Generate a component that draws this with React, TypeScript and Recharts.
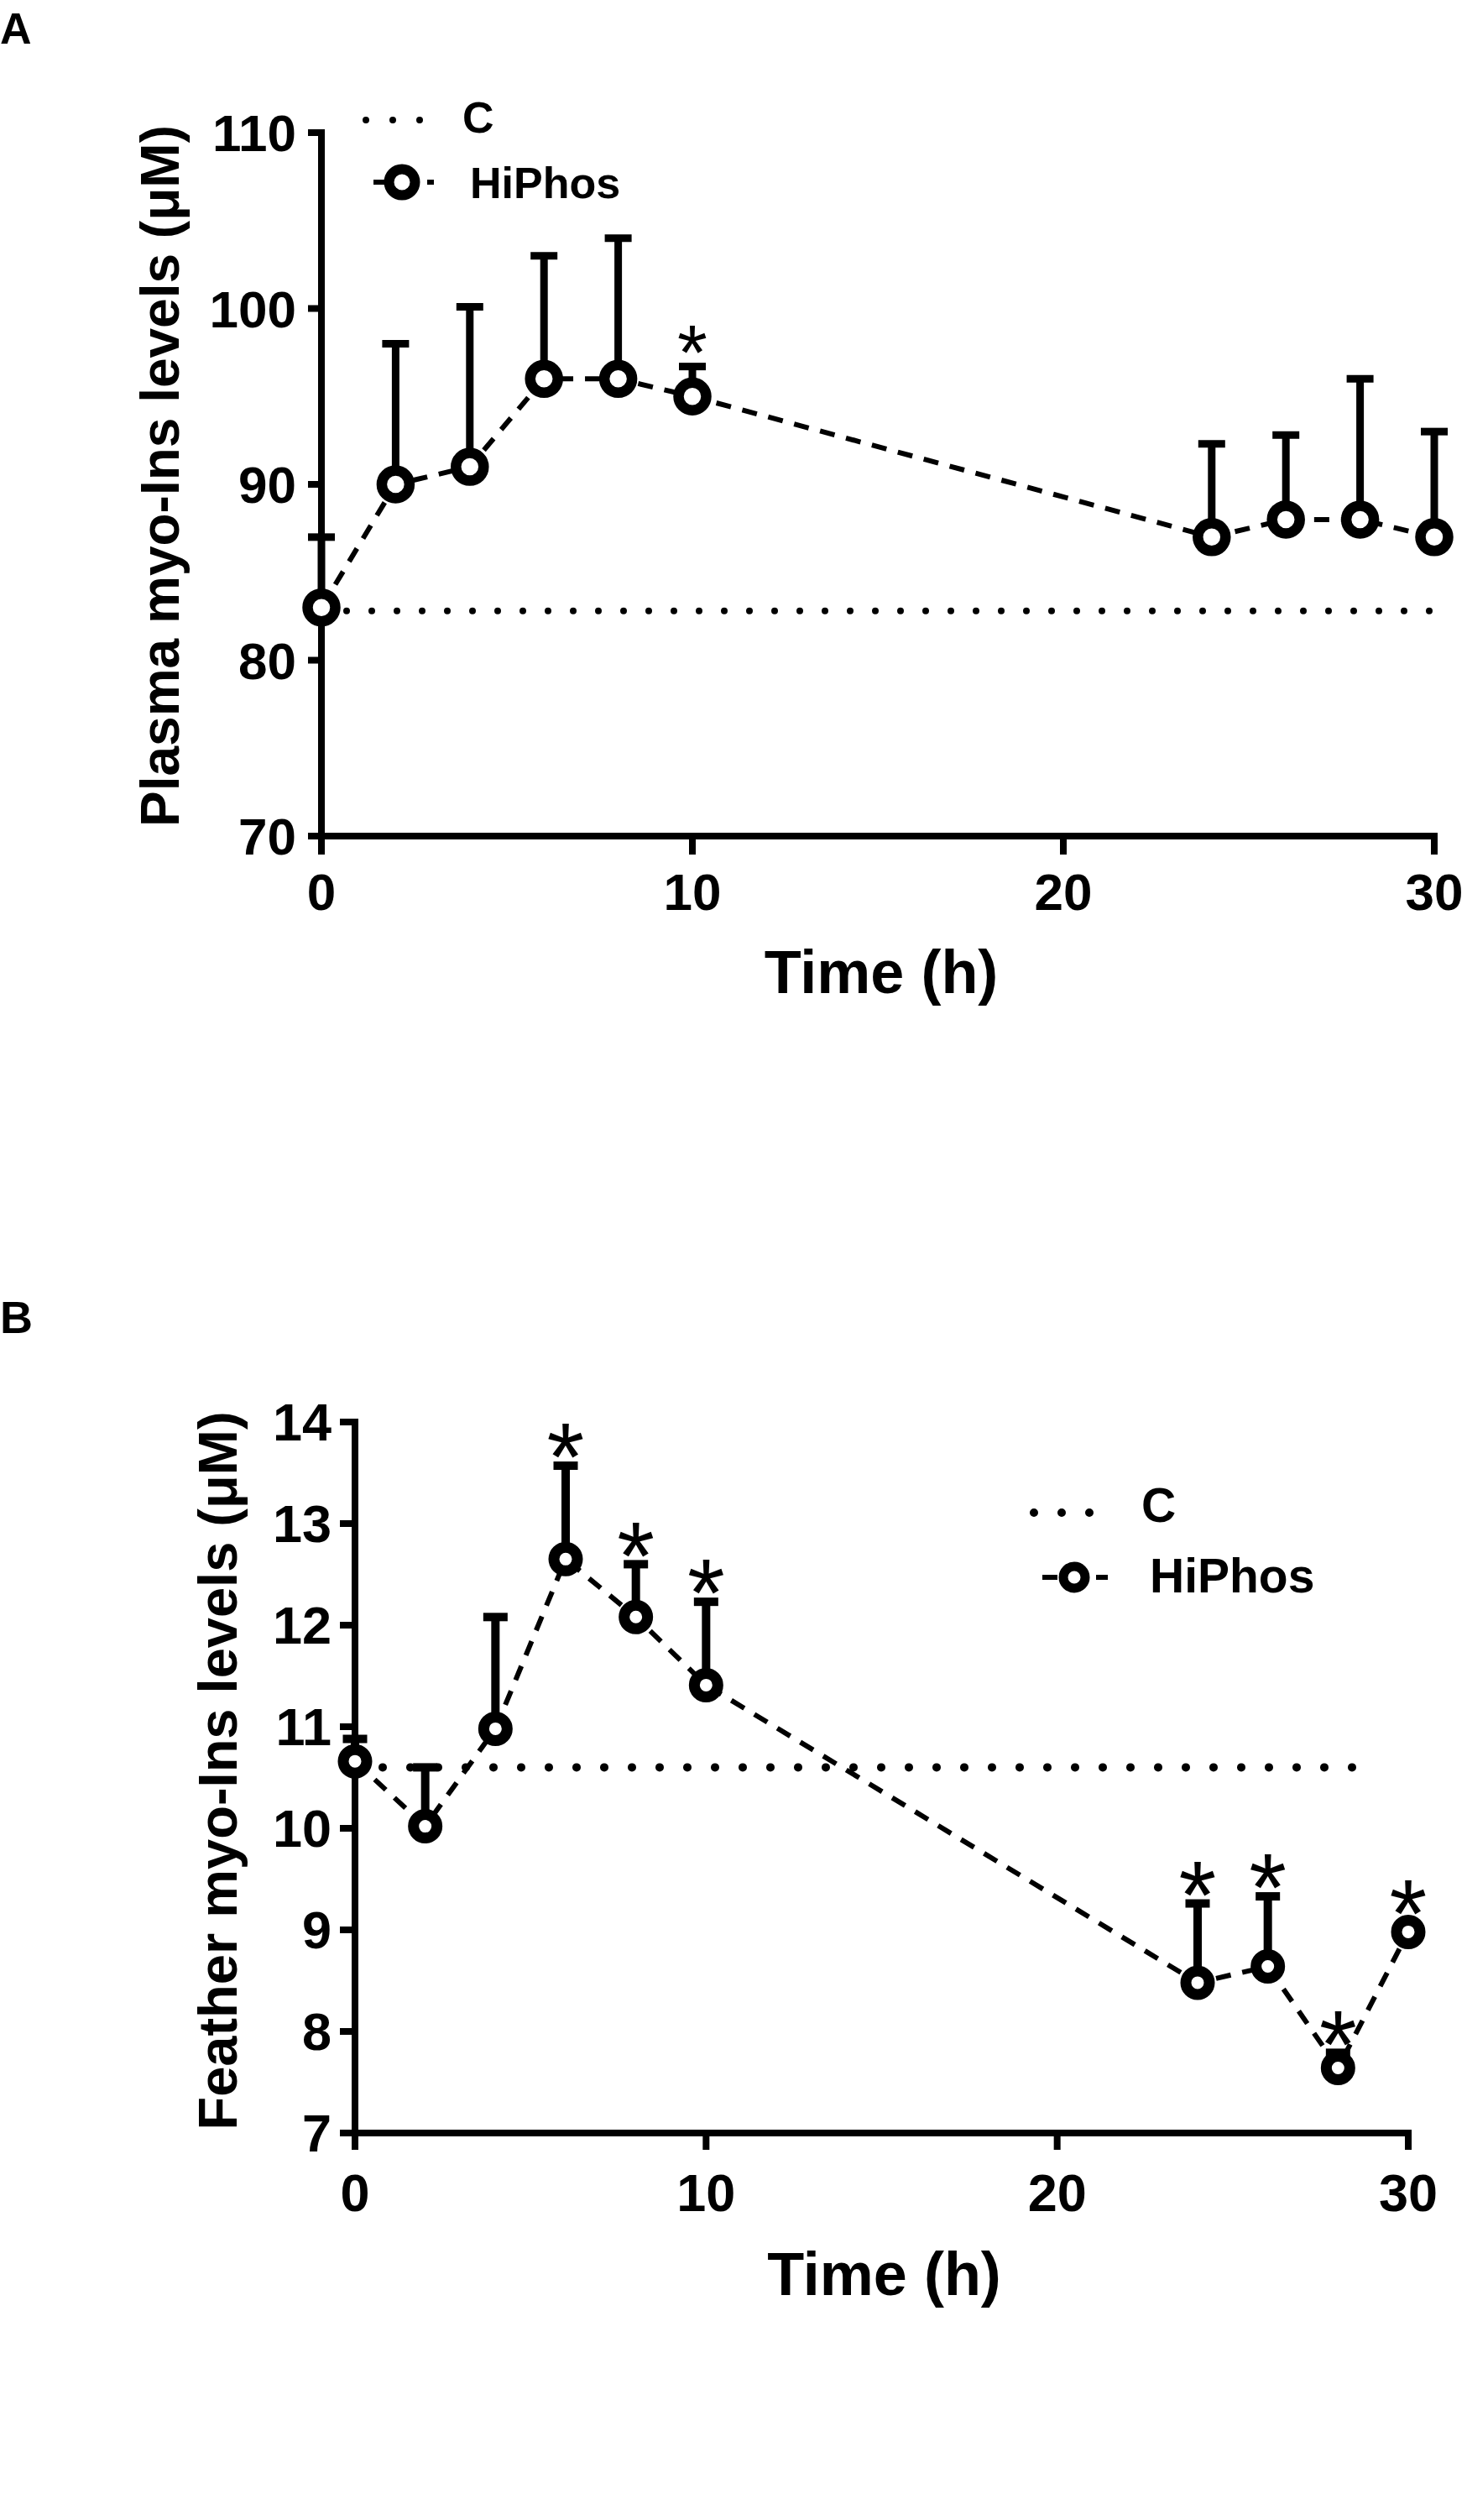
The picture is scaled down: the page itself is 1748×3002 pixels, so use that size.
import React from 'react';
import { LineChart, Line, XAxis, YAxis, ErrorBar, LabelList, Label, Legend } from 'recharts';

const FONT = '"Liberation Sans", Arial, Helvetica, sans-serif';

// sampling times (h), shared by both panels
const hours = [0, 2, 4, 6, 8, 10, 24, 26, 28, 30];
const timeTicks = [0, 10, 20, 30];

// panel A - plasma myo-Ins (uM)
const plasmaHiPhos = [83, 90, 91, 96, 96, 95, 87, 88, 88, 87];
const plasmaSem = [4, 8, 9.1, 7, 8, 1.7, 5.3, 4.8, 8, 6];
const plasmaStar = [false, false, false, false, false, true, false, false, false, false];
const plasmaControl = 82.8;
const plasmaControlSpan = [0, 30];
const plasmaTicksY = [70, 80, 90, 100, 110];

// panel B - feather myo-Ins (uM)
const featherHiPhos = [10.66, 10.02, 10.98, 12.65, 12.08, 11.41, 8.48, 8.64, 7.64, 8.98];
const featherSem = [0.22, 0.58, 1.1, 0.92, 0.52, 0.82, 0.78, 0.69, 0.15, 0];
const featherStar = [false, false, false, true, true, true, true, true, true, true];
const featherControl = 10.6;
const featherControlSpan = [0, 29];
const featherTicksY = [7, 8, 9, 10, 11, 12, 13, 14];

type Look = {
  top: number;
  plotTop: number;
  left: number;
  right: number;
  bottom: number;
  tickFont: number;
  yTickSize: number;
  yTickMargin: number;
  xTickSize: number;
  xTickMargin: number;
  yTitle: string;
  yTitleFont: number;
  yTitleBase: number;
  yTitleShift: number;
  xTitleFont: number;
  xTitleDrop: number;
  xTitleShift: number;
  r: number;
  ringW: number;
  errW: number;
  capHalf: number;
  dotW: number;
  dotGap: number;
  starFont: number;
  legend: { left: number; top: number; w: number; h: number; font: number; dotW: number; dotGap: number; r: number; ringW: number; rows: number[][] };
};

const lookA: Look = {
  top: 0, plotTop: 158, left: 383, right: 39, bottom: 84,
  tickFont: 62, yTickSize: 16, yTickMargin: 14, xTickSize: 22, xTickMargin: 22,
  yTitle: 'Plasma myo-Ins levels (μM)', yTitleFont: 64, yTitleBase: 213, yTitleShift: -10,
  xTitleFont: 72, xTitleDrop: 187, xTitleShift: 4,
  r: 16.5, ringW: 12.5, errW: 9, capHalf: 16, dotW: 8, dotGap: 30, starFont: 92,
  legend: {
    left: 420, top: 100, w: 360, h: 160, font: 52, dotW: 8, dotGap: 32, r: 15.5, ringW: 12,
    // [lineStart, lineEnd, lineY, marker x, text x, text baseline]
    rows: [[16, 82, 43, 0, 131, 58], [25, 97, 117, 59, 140, 136]],
  },
};

const lookB: Look = {
  top: 1500, plotTop: 194, left: 423, right: 70, bottom: 39,
  tickFont: 63, yTickSize: 18, yTickMargin: 10, xTickSize: 20, xTickMargin: 28,
  yTitle: 'Feather myo-Ins levels (μM)', yTitleFont: 65, yTitleBase: 282, yTitleShift: -8,
  xTitleFont: 72, xTitleDrop: 193, xTitleShift: 3,
  r: 14, ringW: 13, errW: 10, capHalf: 14.5, dotW: 10, dotGap: 33, starFont: 115,
  legend: {
    left: 1220, top: 260, w: 420, h: 160, font: 57, dotW: 10, dotGap: 33, r: 13, ringW: 11,
    rows: [[12, 80, 42, 0, 140, 53], [22, 100, 119, 60, 150, 137]],
  },
};

function Panel({ look, hiPhos, sem, star, control, controlSpan, yTicks }: {
  look: Look; hiPhos: number[]; sem: number[]; star: boolean[]; control: number; controlSpan: number[]; yTicks: number[];
}) {
  const series = hours.map((x, i) => ({ x, y: hiPhos[i], err: [0, sem[i]] }));
  const marks = hours.map((x, i) => ({ x, top: hiPhos[i] + sem[i], star: star[i] ? '*' : '' }));
  const ctrl = controlSpan.map((x) => ({ x, c: control }));
  const yDomain = [yTicks[0], yTicks[yTicks.length - 1]];
  const tickStyle = { fill: '#000', fontSize: look.tickFont, fontWeight: 700, fontFamily: FONT };
  const axisLine = { stroke: '#000', strokeWidth: 8, strokeLinecap: 'square' as const };
  const tickLine = { stroke: '#000', strokeWidth: 8 };

  const renderStar = (props: any) => {
    const vb = props.viewBox || {};
    const x = props.x ?? vb.x;
    const y = props.y ?? vb.y;
    if (!props.value || x == null || y == null) return null;
    const lift = sem[props.index] > 0 ? 38 : 50;
    return (
      <text x={x} y={y - lift + look.starFont * 0.585} textAnchor="middle" fontSize={look.starFont} fontFamily={FONT} fill="#000">
        {props.value}
      </text>
    );
  };

  const renderYTitle = (props: any) => {
    const vb = props.viewBox || { x: 0, y: look.plotTop, height: 800 };
    const cy = vb.y + vb.height / 2 + look.yTitleShift;
    const cx = look.yTitleBase;
    return (
      <text x={cx} y={cy} transform={`rotate(-90, ${cx}, ${cy})`} textAnchor="middle" fontSize={look.yTitleFont} fontWeight={700} fontFamily={FONT} fill="#000">
        {look.yTitle}
      </text>
    );
  };

  const renderXTitle = (props: any) => {
    const vb = props.viewBox || { x: look.left, y: 1000, width: 1300 };
    return (
      <text x={vb.x + vb.width / 2 + look.xTitleShift} y={vb.y + look.xTitleDrop} textAnchor="middle" fontSize={look.xTitleFont} fontWeight={700} fontFamily={FONT} fill="#000">
        Time (h)
      </text>
    );
  };

  const lg = look.legend;
  const renderLegend = () => (
    <svg width={lg.w} height={lg.h} style={{ display: 'block' }}>
      {['C', 'HiPhos'].map((name, k) => {
        const [x1, x2, ly, mx, tx, ty] = lg.rows[k];
        return (
          <g key={name}>
            {k === 0 ? (
              <line x1={x1} x2={x2} y1={ly} y2={ly} stroke="#000" strokeWidth={lg.dotW} strokeDasharray={`0 ${lg.dotGap}`} strokeLinecap="round" />
            ) : (
              <>
                <line x1={x1} x2={x2} y1={ly} y2={ly} stroke="#000" strokeWidth={6} strokeDasharray="18 14" />
                <circle cx={mx} cy={ly} r={lg.r} fill="#fff" stroke="#000" strokeWidth={lg.ringW} />
              </>
            )}
            <text x={tx} y={ty} fontSize={lg.font} fontWeight={700} fontFamily={FONT} fill="#000">{name}</text>
          </g>
        );
      })}
    </svg>
  );

  return (
    <div style={{ position: 'absolute', left: 0, top: look.top }}>
      <LineChart width={1748} height={1300} margin={{ top: look.plotTop, right: look.right, bottom: look.bottom, left: 0 }}>
        <XAxis
          type="number"
          dataKey="x"
          domain={[0, 30]}
          ticks={timeTicks}
          interval={0}
          height={220}
          axisLine={axisLine}
          tickLine={tickLine}
          tickSize={look.xTickSize}
          tickMargin={look.xTickMargin}
          tick={tickStyle}
        >
          <Label content={renderXTitle} />
        </XAxis>
        <YAxis
          type="number"
          domain={yDomain}
          ticks={yTicks}
          interval={0}
          width={look.left}
          axisLine={axisLine}
          tickLine={tickLine}
          tickSize={look.yTickSize}
          tickMargin={look.yTickMargin}
          tick={tickStyle}
        >
          <Label content={renderYTitle} />
        </YAxis>
        <Legend
          layout="horizontal"
          verticalAlign="middle"
          align="center"
          wrapperStyle={{ left: lg.left, top: lg.top, width: lg.w, height: lg.h }}
          content={renderLegend}
        />
        <Line
          data={ctrl}
          dataKey="c"
          name="C"
          stroke="#000"
          strokeWidth={look.dotW}
          strokeDasharray={`0 ${look.dotGap}`}
          strokeLinecap="round"
          dot={false}
          activeDot={false}
          isAnimationActive={false}
        />
        <Line
          data={series}
          dataKey="y"
          name="HiPhos"
          stroke="#000"
          strokeWidth={6}
          strokeDasharray="18 14"
          dot={{ r: look.r, fill: '#fff', stroke: '#000', strokeWidth: look.ringW, strokeDasharray: 'none' }}
          activeDot={false}
          isAnimationActive={false}
        >
          <ErrorBar dataKey="err" direction="y" width={look.capHalf} strokeWidth={look.errW} stroke="#000" />
        </Line>
        <Line
          data={marks}
          dataKey="top"
          name="sig"
          stroke="none"
          dot={false}
          activeDot={false}
          legendType="none"
          isAnimationActive={false}
        >
          <LabelList dataKey="star" content={renderStar} />
        </Line>
      </LineChart>
    </div>
  );
}

export default function App() {
  return (
    <div style={{ position: 'absolute', left: 0, top: 0, width: 1748, height: 3002, background: '#fff', fontFamily: FONT }}>
      <svg width={1748} height={3002} style={{ position: 'absolute', left: 0, top: 0 }}>
        <text x={0} y={52} fontSize={52} fontWeight={700} fontFamily={FONT} fill="#000">A</text>
        <text x={0} y={1588} fontSize={54} fontWeight={700} fontFamily={FONT} fill="#000">B</text>
      </svg>
      <Panel look={lookA} hiPhos={plasmaHiPhos} sem={plasmaSem} star={plasmaStar} control={plasmaControl} controlSpan={plasmaControlSpan} yTicks={plasmaTicksY} />
      <Panel look={lookB} hiPhos={featherHiPhos} sem={featherSem} star={featherStar} control={featherControl} controlSpan={featherControlSpan} yTicks={featherTicksY} />
    </div>
  );
}
